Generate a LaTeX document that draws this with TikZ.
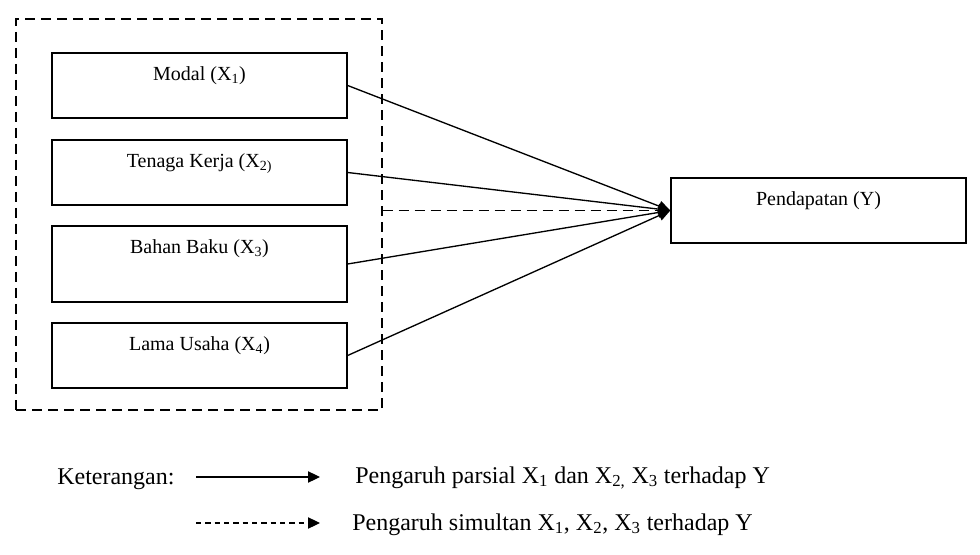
\documentclass[tikz,border=0pt]{standalone}
\usepackage{fontspec}
\setmainfont{Liberation Serif}
\usetikzlibrary{positioning}
\usetikzlibrary{arrows.meta}

\begin{document}
\begin{tikzpicture}[x=0.75pt,y=-0.75pt]

\tikzset
  {
    varBox/.style=    {draw, line width=1pt, inner sep=0pt, minimum width=221.25pt, minimum height=48.75pt},
    varText/.style=   {anchor=base, yshift=-21.4pt, inner sep=0pt, font=\fontsize{15}{18}\selectfont},
    legText/.style=   {inner sep=0pt, font=\fontsize{18}{21}\selectfont},
    partial/.style=   {line width=1pt, -{Triangle[length=9pt,width=8pt]}},
    simultan/.style=  {line width=1pt, dash pattern=on 7.5pt off 4.5pt, -{Triangle[length=9pt,width=8pt]}}
  }

\useasboundingbox (0,0) rectangle (980,555);

% outer dashed group
\node[draw, line width=1pt, dash pattern=on 7.5pt off 4.5pt, minimum width=274.5pt, minimum height=293.25pt] (grup) at (199,214.5) {};

% variable boxes
{
\node[varBox, label={[varText]north:Modal (X\textsubscript{1})}] (modal) at (199.5,85.5) {};
\node[varBox, label={[varText]north:Tenaga Kerja (X\textsubscript{2)}}] (tenaga) at (199.5,172.5) {};
\node[varBox, minimum height=57pt, label={[varText]north:Bahan Baku (X\textsubscript{3})}] (bahan) at (199.5,264) {};
\node[varBox, label={[varText]north:Lama Usaha (X\textsubscript{4})}] (lama) at (199.5,355.5) {};

\node[varBox, label={[varText]north:Pendapatan (Y)}] (hasil) at (818.5,210.5) {};
}

% arrows
\foreach \v in {modal,tenaga,bahan,lama}
\draw[partial] (\v.east) -- (hasil.west);

\draw[simultan] (grup.east |- hasil.west) -- (hasil.west);

% legend
{
\node[legText, anchor=base west] (ket) at (57,484) {Keterangan:};

\coordinate (solidA) at (196,477);
\coordinate (solidB) at (320,477);
\draw[line width=0.8pt, -{Triangle[length=9pt,width=8.5pt]}] (solidA) -- (solidB);
\node[legText, anchor=base west] (parsialTxt) at (355,483) {Pengaruh parsial X\textsubscript{1} dan X\textsubscript{2,} X\textsubscript{3} terhadap Y};

\coordinate (dashA) at (196,523);
\coordinate (dashB) at (320,523);
\draw[line width=0.8pt, dash pattern=on 4pt off 3pt, -{Triangle[length=9pt,width=8.5pt]}] (dashA) -- (dashB);
\node[legText, anchor=base west] (simultanTxt) at (352,530) {Pengaruh simultan X\textsubscript{1}, X\textsubscript{2}, X\textsubscript{3} terhadap Y};
}

\end{tikzpicture}
\end{document}
